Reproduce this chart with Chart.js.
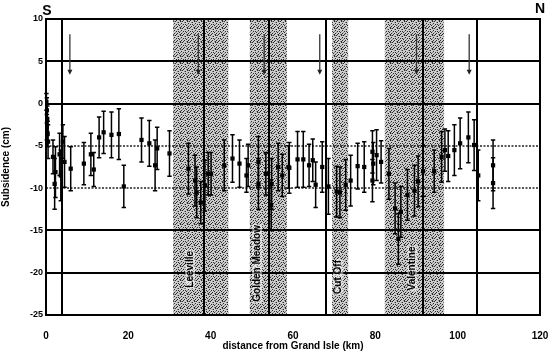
<!DOCTYPE html>
<html>
<head>
<meta charset="utf-8">
<script src="https://cdn.jsdelivr.net/npm/chart.js@4.4.0/dist/chart.umd.min.js"></script>
<style>
  html, body { margin: 0; padding: 0; background: #fff; }
  #wrap { width: 552px; height: 352px; }
</style>
</head>
<body>
<div id="wrap"><canvas id="chart" width="552" height="352"></canvas></div>
<script>
// distance from Grand Isle (km), subsidence (cm), error (cm)
const dist = [0.1, 0.2, 0.3, 0.2, 0.4, 0.5, 1.7, 2.1, 2.3, 3.3, 3.6, 4.1, 4.5, 6.0,
  9.2, 10.9, 11.6, 12.9, 14.0, 15.9, 17.7, 18.9, 23.2, 25.1, 26.5, 27.0, 30.0,
  34.6, 36.2, 36.6, 37.6, 38.6, 39.4, 40.1, 43.3, 45.3, 47.0, 48.7, 49.1, 51.6, 51.6,
  53.4, 54.7, 54.8, 56.4, 57.4, 58.9, 59.1, 61.1, 62.5, 63.9, 64.8, 65.5, 67.1, 68.6,
  70.6, 71.4, 72.8, 74.0, 75.7, 77.3, 79.3, 79.5, 79.3, 80.3, 81.4, 83.3, 84.8, 85.6,
  86.2, 87.8, 89.5, 90.4, 91.6, 94.3, 96.1, 96.9, 97.7, 99.2, 100.6, 102.6, 104.0,
  105.0, 108.6, 108.6];
const subs = [0.2, -0.8, -1.8, -2.8, -3.6, -4.5, -6.3, -9.5, -8.1, -6.0, -8.5, -4.5, -6.9, -7.7,
  -7.1, -6.0, -7.8, -4.0, -3.4, -3.7, -3.6, -9.8, -4.3, -4.7, -7.3, -5.3, -5.9,
  -7.7, -9.1, -10.5, -11.7, -9.7, -8.3, -8.3, -7.3, -6.5, -7.1, -8.5, -7.3, -6.9, -9.5,
  -8.3, -12.0, -9.5, -7.5, -8.5, -7.5, -7.6, -6.6, -6.6, -7.3, -6.7, -9.6, -7.5, -9.8,
  -10.4, -10.5, -9.6, -9.1, -7.4, -7.5, -5.7, -7.1, -9.1, -6.1, -6.9, -8.3, -12.4, -16.0,
  -12.8, -10.8, -10.3, -9.2, -8.0, -8.0, -6.3, -5.5, -6.2, -5.5, -4.7, -4.0, -4.9,
  -8.5, -7.3, -9.4];
const errs = [1, 1.5, 1.5, 1.5, 1.5, 2, 2, 3, 3, 2.5, 3, 2, 3, 2.6,
  2.5, 2.5, 2, 2.4, 2.5, 2.7, 3, 2.5, 2.6, 2.7, 3, 2.5, 2.7,
  3, 3, 3, 2.5, 3, 2.5, 2.5, 3, 2.8, 2.8, 2, 2.5, 3, 3,
  2.5, 3, 3, 2.8, 2.5, 2.5, 3, 3.3, 3.3, 2.5, 2.5, 2.7, 3, 3.3,
  3, 3, 3, 3, 2.7, 3, 2.5, 2.5, 2.5, 3, 2.5, 3, 3, 3,
  3, 3, 3, 3, 3, 2.5, 3, 2.5, 3, 3, 3, 3, 3,
  3, 3, 3];

const towns = ['Leeville', 'Golden Meadow', 'Cut Off', 'Valentine'];
const townX = [35.0, 51.3, 71.0, 89.0];
const townY = [-19.6, -18.9, -20.5, -19.5];
const bandStart = [30.9, 49.5, 69.5, 82.3];
const bandEnd = [44.3, 58.5, 73.4, 96.7];
const markerLines = [3.8, 38.5, 54.2, 67.9, 91.7, 104.6];
const arrowX = [5.8, 37.0, 53.0, 66.5, 90.0, 102.8];
const arrowTop = 8.2;
const arrowTip = 3.4;
const xTicks = [0, 20, 40, 60, 80, 100, 120];
const yTicks = [10, 5, 0, -5, -10, -15, -20, -25];

const points = dist.map((d, i) => ({ x: d, y: subs[i] }));

// stipple pattern for the town bands
function makeStipple(ctx) {
  const c = document.createElement('canvas');
  c.width = 7; c.height = 7;
  const g = c.getContext('2d');
  g.fillStyle = '#cdcdcd';
  g.fillRect(0, 0, 7, 7);
  g.fillStyle = '#2a2a2a';
  [[0,0],[3,1],[6,2],[1,3],[4,4],[2,5],[5,6],[5,0],[1,6],[3,3],[6,5]]
    .forEach(p => g.fillRect(p[0], p[1], 1, 1));
  g.fillStyle = '#888';
  [[2,1],[0,4],[5,3],[4,6],[6,0]].forEach(p => g.fillRect(p[0], p[1], 1, 1));
  return ctx.createPattern(c, 'repeat');
}

const decor = {
  id: 'decor',
  beforeDraw(chart) {
    const { ctx, chartArea: a, scales: { x } } = chart;
    ctx.save();
    ctx.fillStyle = makeStipple(ctx);
    bandStart.forEach((s, i) => {
      const x0 = x.getPixelForValue(s), x1 = x.getPixelForValue(bandEnd[i]);
      ctx.fillRect(x0, a.top, x1 - x0, a.bottom - a.top);
    });
    ctx.restore();
  },
  beforeDatasetsDraw(chart) {
    const { ctx, chartArea: a, scales: { x, y } } = chart;
    ctx.save();
    // town names
    ctx.font = 'bold 10px "Liberation Sans", Arial, sans-serif';
    ctx.textAlign = 'center';
    ctx.textBaseline = 'middle';
    towns.forEach((t, i) => {
      const px = x.getPixelForValue(townX[i]), py = y.getPixelForValue(townY[i]);
      const w = ctx.measureText(t).width;
      ctx.save();
      ctx.translate(px, py);
      ctx.rotate(-Math.PI / 2);
      ctx.fillStyle = 'rgba(255,255,255,0.5)';
      ctx.fillRect(-w / 2 - 1, -5, w + 2, 10);
      ctx.fillStyle = '#000';
      ctx.fillText(t, 0, 0);
      ctx.restore();
    });
    // dotted grid lines at -5 and -10
    ctx.strokeStyle = '#222';
    ctx.lineWidth = 1.5;
    ctx.setLineDash([2, 1.5]);
    [-5, -10].forEach(v => {
      const py = Math.round(y.getPixelForValue(v));
      ctx.beginPath();
      ctx.moveTo(a.left, py);
      ctx.lineTo(a.right, py);
      ctx.stroke();
    });
    ctx.setLineDash([]);
    // vertical marker lines
    ctx.strokeStyle = '#000';
    ctx.lineWidth = 2;
    markerLines.forEach(v => {
      const px = Math.round(x.getPixelForValue(v));
      ctx.beginPath();
      ctx.moveTo(px, a.top);
      ctx.lineTo(px, a.bottom);
      ctx.stroke();
    });
    // arrows
    ctx.strokeStyle = '#333';
    ctx.fillStyle = '#222';
    ctx.lineWidth = 1.3;
    arrowX.forEach(v => {
      const px = x.getPixelForValue(v);
      const y0 = y.getPixelForValue(arrowTop), y1 = y.getPixelForValue(arrowTip);
      ctx.beginPath();
      ctx.moveTo(px, y0);
      ctx.lineTo(px, y1 - 4);
      ctx.stroke();
      ctx.beginPath();
      ctx.moveTo(px - 2.5, y1 - 5);
      ctx.lineTo(px + 2.5, y1 - 5);
      ctx.lineTo(px, y1);
      ctx.closePath();
      ctx.fill();
    });
    // error bars
    ctx.strokeStyle = '#000';
    ctx.lineWidth = 1.5;
    dist.forEach((d, i) => {
      const px = x.getPixelForValue(d);
      const yt = y.getPixelForValue(subs[i] + errs[i]);
      const yb = y.getPixelForValue(subs[i] - errs[i]);
      ctx.beginPath();
      ctx.moveTo(px, yt); ctx.lineTo(px, yb);
      ctx.moveTo(px - 2.2, yt); ctx.lineTo(px + 2.2, yt);
      ctx.moveTo(px - 2.2, yb); ctx.lineTo(px + 2.2, yb);
      ctx.stroke();
    });
    ctx.restore();
  },
  afterDraw(chart) {
    const { ctx, chartArea: a } = chart;
    ctx.save();
    ctx.strokeStyle = '#000';
    ctx.lineWidth = 2;
    ctx.strokeRect(a.left, a.top, a.right - a.left, a.bottom - a.top);
    ctx.fillStyle = '#000';
    ctx.font = 'bold 14px "Liberation Sans", Arial, sans-serif';
    ctx.textAlign = 'center';
    ctx.textBaseline = 'bottom';
    ctx.fillText('S', a.left + 1, a.top - 1);
    ctx.fillText('N', a.right, a.top - 3);
    ctx.restore();
  }
};

new Chart(document.getElementById('chart').getContext('2d'), {
  type: 'scatter',
  data: {
    datasets: [{
      data: points,
      pointStyle: 'rect',
      pointRadius: 3,
      backgroundColor: '#000',
      borderColor: '#000',
      borderWidth: 0
    }]
  },
  options: {
    responsive: false,
    animation: false,
    layout: { padding: { top: 19, right: 0, left: 0, bottom: 0 } },
    plugins: { legend: { display: false }, tooltip: { enabled: false } },
    scales: {
      x: {
        type: 'linear', min: 0, max: 120,
        afterBuildTicks: s => { s.ticks = xTicks.map(v => ({ value: v })); },
        afterFit: s => { s.height = 37; s.paddingLeft = 0; s.paddingRight = 12; },
        grid: { display: false },
        border: { color: '#000', width: 2 },
        ticks: { color: '#000', padding: 7, font: { family: 'Liberation Sans', size: 10, weight: 'bold' } },
        title: { display: true, text: 'distance from Grand Isle (km)', color: '#000', padding: 0,
          font: { family: 'Liberation Sans', size: 10, weight: 'bold' } }
      },
      y: {
        min: -25, max: 10,
        afterBuildTicks: s => { s.ticks = yTicks.map(v => ({ value: v })); },
        afterFit: s => { s.width = 46; },
        grid: {
          drawTicks: false,
          color: c => (c.tick && (c.tick.value === -5 || c.tick.value === -10)) ? 'rgba(0,0,0,0)' : '#000',
          lineWidth: 2
        },
        border: { color: '#000', width: 2 },
        ticks: { color: '#000', padding: 3, font: { family: 'Liberation Sans', size: 9, weight: 'bold' } },
        title: { display: true, text: 'Subsidence (cm)', color: '#000', padding: 0,
          font: { family: 'Liberation Sans', size: 10, weight: 'bold' } }
      }
    }
  },
  plugins: [decor]
});
</script>
</body>
</html>
